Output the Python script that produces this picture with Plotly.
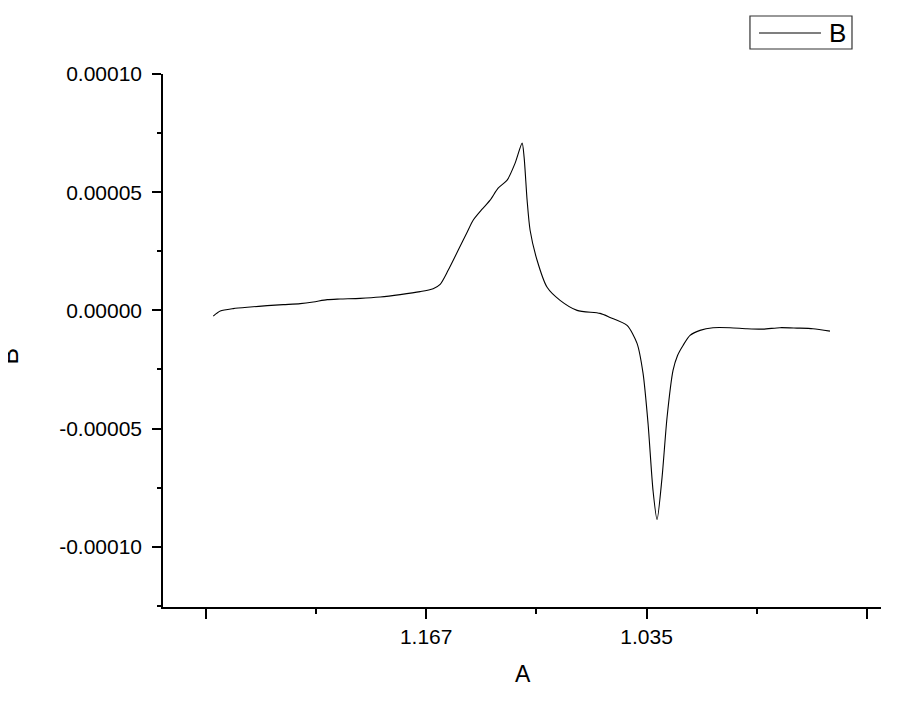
import plotly.graph_objects as go

# ==========================================
# DATOS
# ==========================================
A = [1.29450, 1.29031, 1.28253, 1.27235, 1.26218, 1.25260, 1.24242, 1.23464,
     1.22626, 1.21848, 1.20651, 1.19454, 1.18256, 1.17059, 1.16281, 1.15862,
     1.15383, 1.14784, 1.14246, 1.13887, 1.13348, 1.12869, 1.12390, 1.11851,
     1.11372, 1.10953, 1.10834, 1.10654, 1.10475, 1.10056, 1.09457, 1.08679,
     1.07661, 1.06284, 1.05686, 1.04668, 1.04070, 1.03710, 1.03411, 1.03112,
     1.02872, 1.02573, 1.02274, 1.01915, 1.01645, 1.01316, 1.00897, 1.00298,
     0.99520, 0.98503, 0.97485, 0.96527, 0.95510, 0.94492, 0.93534, 0.92517]

B = [-0.242e-5, -0.030e-5, 0.072e-5, 0.140e-5, 0.199e-5, 0.242e-5, 0.284e-5, 0.352e-5,
     0.453e-5, 0.479e-5, 0.508e-5, 0.564e-5, 0.665e-5, 0.792e-5, 0.919e-5, 1.102e-5,
     1.695e-5, 2.542e-5, 3.305e-5, 3.813e-5, 4.279e-5, 4.661e-5, 5.169e-5, 5.508e-5,
     6.228e-5, 7.076e-5, 6.483e-5, 4.661e-5, 3.390e-5, 2.119e-5, 0.975e-5, 0.424e-5,
     0.000e-5, -0.127e-5, -0.297e-5, -0.636e-5, -1.398e-5, -2.669e-5, -4.788e-5, -7.627e-5,
     -8.855e-5, -7.076e-5, -4.534e-5, -2.542e-5, -1.907e-5, -1.483e-5, -1.059e-5, -0.847e-5,
     -0.733e-5, -0.733e-5, -0.775e-5, -0.792e-5, -0.733e-5, -0.750e-5, -0.775e-5, -0.877e-5]

X_TICKS = [1.299, 1.167, 1.035, 0.903]
X_TICK_TEXT = ["", "1.167", "1.035", ""]
X_MINOR = [1.233, 1.101, 0.969]

Y_TICKS = [0.00010, 0.00005, 0.0, -0.00005, -0.00010]
Y_TICK_TEXT = ["0.00010", "0.00005", "0.00000", "-0.00005", "-0.00010"]

FUENTE = "Liberation Sans, Arial, sans-serif"

fig = go.Figure()
fig.add_trace(go.Scatter(x=A, y=B, mode="lines", name="B", showlegend=False,
                         line=dict(color="black", width=1.1, shape="spline", smoothing=0.7)))

# la página añade 8 px de margen al body: se compensa en márgenes y tamaño
fig.update_layout(
    width=892, height=694,
    margin=dict(l=155, r=19, t=66, b=95, autoexpand=False),
    paper_bgcolor="white", plot_bgcolor="white",
    font=dict(family=FUENTE, size=21, color="black"),
)

fig.update_xaxes(
    range=[1.3246, 0.8946], showgrid=False, zeroline=False,
    showline=True, linecolor="black", linewidth=1.5,
    tickmode="array", tickvals=X_TICKS, ticktext=X_TICK_TEXT,
    ticks="outside", ticklen=10, tickwidth=1.5, tickcolor="black",
    minor=dict(tickvals=X_MINOR, ticks="outside", ticklen=5, tickwidth=1.5, tickcolor="black"),
)
fig.update_yaxes(
    range=[-0.0001255, 0.0001], showgrid=False, zeroline=False,
    showline=True, linecolor="black", linewidth=1.5,
    tickmode="array", tickvals=Y_TICKS, ticktext=Y_TICK_TEXT,
    ticks="outside", ticklen=9, tickwidth=1.5, tickcolor="black", ticklabelstandoff=6,
    minor=dict(tick0=0, dtick=0.000025, ticks="outside", ticklen=4, tickwidth=1.5, tickcolor="black"),
)

# leyenda estilo Origin (caja, muestra de línea y etiqueta)
fig.add_shape(type="rect", xref="paper", yref="paper",
              x0=0.8175, x1=0.9596, y0=1.0469, y1=1.1088,
              line=dict(color="#333", width=1.2), fillcolor="white")
fig.add_shape(type="line", xref="paper", yref="paper",
              x0=0.8301, x1=0.9164, y0=1.0769, y1=1.0769,
              line=dict(color="black", width=1.1))
fig.add_annotation(text="B", xref="paper", yref="paper", x=0.9394, y=1.0769,
                   xanchor="center", yanchor="middle", showarrow=False,
                   font=dict(size=26))

# títulos de ejes
fig.add_annotation(text="A", xref="paper", yref="paper", x=0.501, y=-0.1257,
                   xanchor="center", yanchor="middle", showarrow=False,
                   font=dict(size=23))
fig.add_annotation(text="B", xref="paper", yref="paper", x=-0.2145, y=0.472,
                   xanchor="center", yanchor="middle", showarrow=False,
                   textangle=-90, font=dict(size=25))

fig.write_html("out.html")
